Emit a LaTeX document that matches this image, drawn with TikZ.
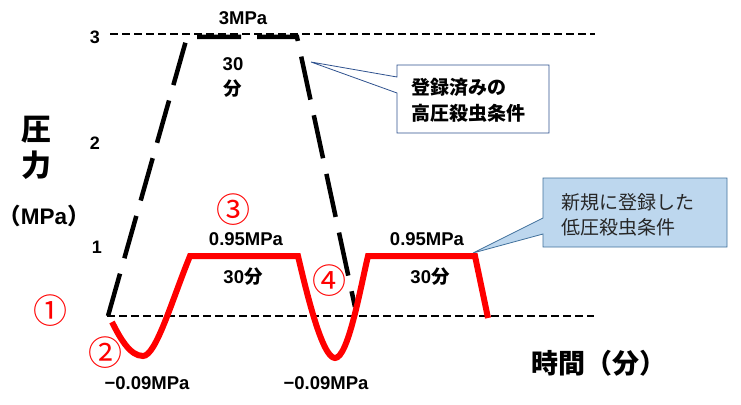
\documentclass[tikz,border=0pt]{standalone}
\usepackage{fontspec}
\setmainfont{Liberation Sans}
\newfontfamily\jp{Noto Sans CJK JP}
\definecolor{boxblue}{HTML}{2F528F}
\definecolor{notefill}{HTML}{BDD7EE}
\definecolor{noteedge}{HTML}{41719C}
\definecolor{notetext}{HTML}{262626}
\begin{document}
\begin{tikzpicture}[x=1pt,y=-1pt,
  axisline/.style={line width=2.2pt, dash pattern=on 8pt off 4pt},
  highpath/.style={line width=4.5pt, dash pattern=on 44pt off 16pt},
  lowpath/.style={line width=6pt, red},
  val/.style={inner sep=0pt, font=\fontsize{18.5}{20}\selectfont\bfseries},
  tick/.style={inner sep=0pt, font=\fontsize{18}{20}\selectfont\bfseries},
  circnum/.style={inner sep=0pt, text=red, font=\fontsize{34}{36}\selectfont\jp},
  bigjp/.style={inner sep=0pt, font=\fontsize{30}{32}\selectfont\jp\bfseries},
  calltext/.style={inner sep=0pt, align=left, anchor=west}
]
\useasboundingbox (0,0) rectangle (741,404);

% callouts
\draw[draw=boxblue, fill=white, line width=0.8pt]
  (397,65) -- (549,65) -- (549,133) -- (397,133) -- (397,93) -- (311,62) -- (397,77) -- cycle;
\node[calltext, font=\fontsize{19}{26}\selectfont\jp\bfseries] (c1) at (411,100) {登録済みの\\高圧殺虫条件};

\draw[draw=noteedge, fill=notefill, line width=0.8pt]
  (543,178) -- (727,178) -- (727,247) -- (543,247) -- (543,234) -- (473,253) -- (543,218) -- cycle;
\node[calltext, text=notetext, font=\fontsize{19}{25}\selectfont\jp] (c2) at (561,215) {新規に登録した\\低圧殺虫条件};

% axis lines
\coordinate (t0) at (110,34);
\coordinate (t1) at (595,34);
\coordinate (z0) at (107,316);
\coordinate (z1) at (594,316);
\draw[axisline] (t0) -- (t1);
\draw[axisline] (z0) -- (z1);

% high-pressure (registered) path
\coordinate (h0) at (108,316);
\coordinate (h1) at (187,37);
\coordinate (h2) at (297,37);
\coordinate (h3) at (355,307);
\draw[highpath] (h0) -- (h1) -- (h2) -- (h3);

% low-pressure (new) path
\draw[lowpath] (112,322) .. controls (120,338) and (130,356) .. (143,356)
  .. controls (156,356) and (172,300) .. (190,256) -- (298,256)
  .. controls (306,290) and (322,358) .. (335,358)
  .. controls (348,358) and (360,290) .. (368,256) -- (475,256) -- (488,318);

% tick labels
\node[tick] (y3) at (95,37) {3};
\node[tick] (y2) at (95,143) {2};
\node[tick] (y1) at (97,247) {1};

% axis titles
\node[bigjp] (ya1) at (36,130) {圧};
\node[bigjp] (ya2) at (36,165) {力};
\node[inner sep=0pt, font=\fontsize{22.5}{25}\selectfont\bfseries] (yu) at (44,216) {\kern-0.4em{\jp（}MPa{\jp）}\kern-0.4em};
\node[inner sep=0pt, font=\fontsize{27}{29}\selectfont\jp\bfseries] (xa) at (599,363) {時間（分）};

% value labels
\node[val] (v3) at (243,18) {3MPa};
\node[val] (v30a) at (233,64) {30};
\node[val] (v30b) at (233,89) {\jp 分};
\node[val] (v95a) at (246,239) {0.95MPa};
\node[val] (m30a) at (243,277) {30\jp 分};
\node[val] (v95b) at (427,239) {0.95MPa};
\node[val] (m30b) at (430,277) {30\jp 分};
\node[val] (n9a) at (147,383) {−0.09MPa};
\node[val] (n9b) at (326,383) {−0.09MPa};

% circled step numbers
\node[circnum] (s1) at (50,311) {①};
\node[circnum] (s2) at (105,353) {②};
\node[circnum] (s3) at (233,210) {③};
\node[circnum] (s4) at (329,281) {④};
\end{tikzpicture}
\end{document}
